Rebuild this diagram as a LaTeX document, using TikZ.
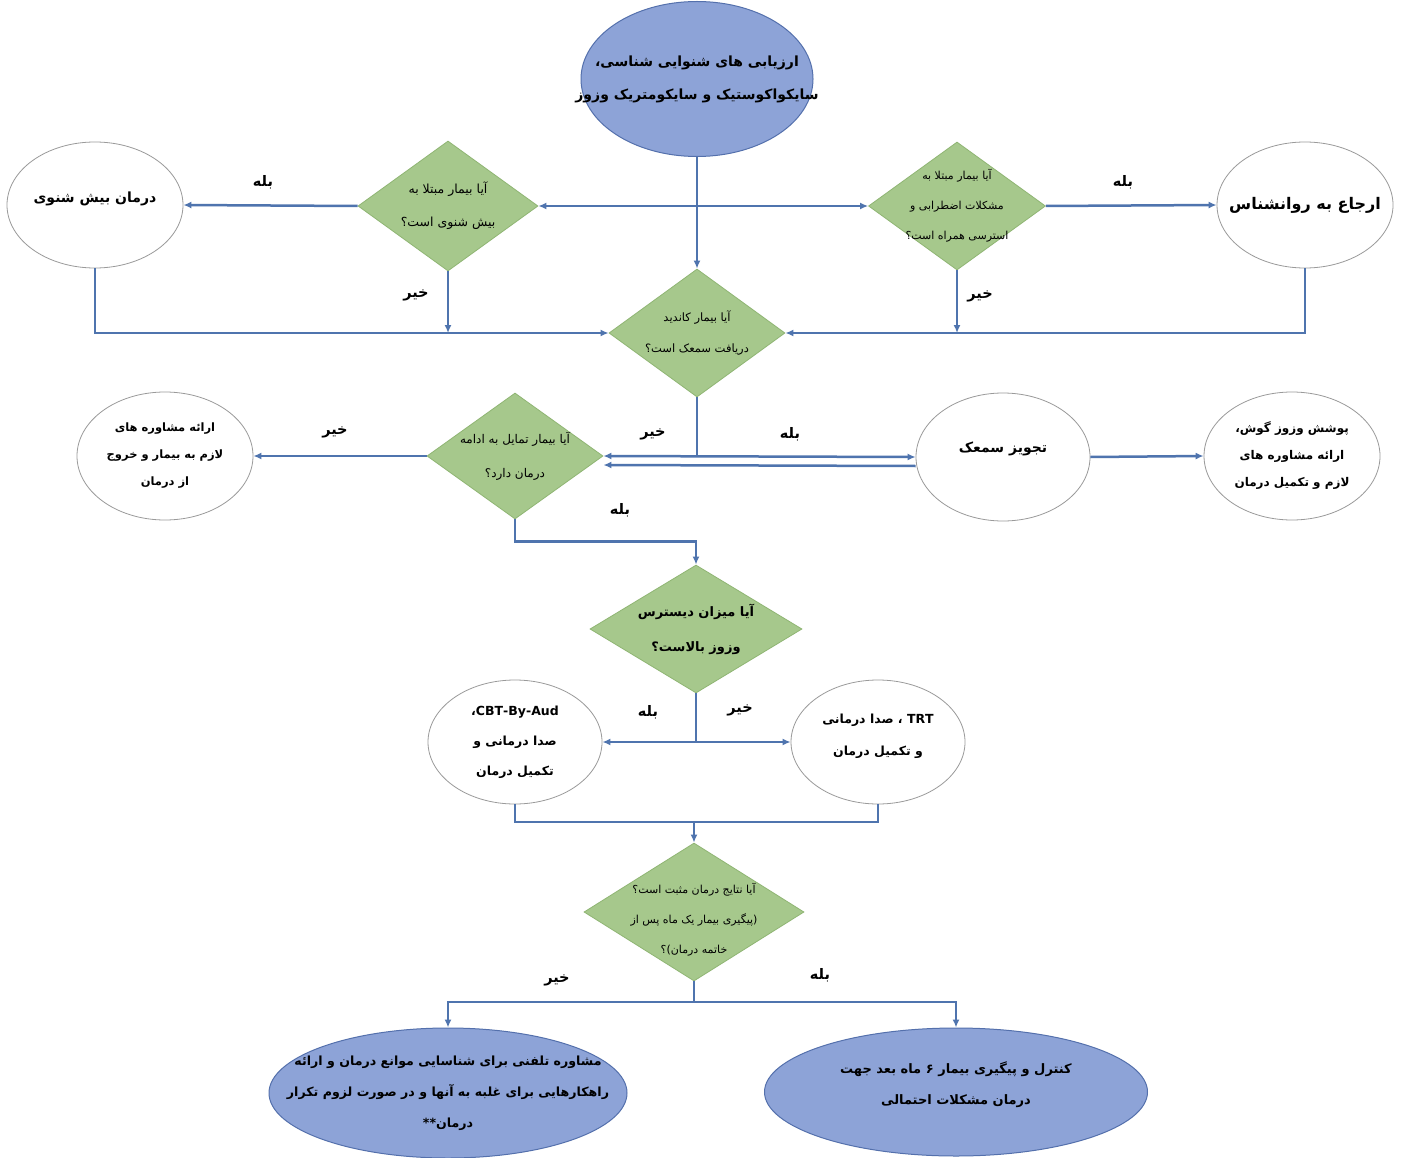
\documentclass[tikz,border=0pt]{standalone}
\usepackage{fontspec}
\usetikzlibrary{shapes.geometric,arrows.meta}
\TeXXeTstate=1
\newfontfamily\fafont[Script=Arabic]{DejaVu Sans}
\newcommand{\fa}[1]{\beginR #1\endR}
\definecolor{lnc}{HTML}{4F74AE}
\definecolor{dfill}{HTML}{A6C88C}
\definecolor{ddraw}{HTML}{8FB573}
\definecolor{bfill}{HTML}{8DA3D7}
\definecolor{bdraw}{HTML}{5470AC}
\definecolor{wdraw}{HTML}{9A9A9A}
\begin{document}
\begin{tikzpicture}[x=1pt,y=-1pt,
  flow/.style={draw=lnc,line width=2.5pt},
  arr/.style={-{Latex[length=8pt,width=7pt]}},
  both/.style={{Latex[length=8pt,width=7pt]}-{Latex[length=8pt,width=7pt]}},
  dia/.style={shape=diamond,fill=dfill,draw=ddraw,line width=0.8pt,inner sep=0pt},
  wel/.style={shape=ellipse,fill=white,draw=wdraw,line width=0.8pt,inner sep=0pt},
  bel/.style={shape=ellipse,fill=bfill,draw=bdraw,line width=1pt,inner sep=0pt},
  txt/.style={align=center,inner sep=0pt},
  lbl/.style={inner sep=0pt,font=\fafont\bfseries\fontsize{14.5}{16}\selectfont},
]
\fill[white] (0,0) rectangle (1402,1158);
\useasboundingbox (0,0) rectangle (1402,1158);

% ---------- shapes ----------
\node[bel,minimum width=232pt,minimum height=155pt] (top) at (697,79) {};
\node[txt,font=\fafont\bfseries\fontsize{14}{33}\selectfont] (topt) at (top)
  {\fa{ارزیابی های شنوایی شناسی،}\\\fa{سایکواکوستیک و سایکومتریک وزوز}};

\node[wel,minimum width=176pt,minimum height=126pt] (e1) at (95,205) {};
\node[txt,font=\fafont\bfseries\fontsize{14}{16}\selectfont] (e1t) at ([yshift=6pt]e1.center) {\fa{درمان بیش شنوی}};

\node[dia,minimum width=180pt,minimum height=130pt] (d1) at (448,206) {};
\node[txt,font=\fafont\fontsize{12.5}{33}\selectfont] (d1t) at (d1)
  {\fa{آیا بیمار مبتلا به}\\\fa{بیش شنوی است؟}};

\node[dia,minimum width=177pt,minimum height=128pt] (d2) at (957,206) {};
\node[txt,font=\fafont\fontsize{11}{30}\selectfont] (d2t) at (d2)
  {\fa{آیا بیمار مبتلا به}\\\fa{مشکلات اضطرابی و}\\\fa{استرسی همراه است؟}};

\node[wel,minimum width=176pt,minimum height=126pt] (e2) at (1305,205) {};
\node[txt,font=\fafont\bfseries\fontsize{16}{18}\selectfont] (e2t) at (e2) {\fa{ارجاع به روانشناس}};

\node[dia,minimum width=176pt,minimum height=128pt] (d3) at (697,333) {};
\node[txt,font=\fafont\fontsize{11.5}{31}\selectfont] (d3t) at (d3)
  {\fa{آیا بیمار کاندید}\\\fa{دریافت سمعک است؟}};

\node[dia,minimum width=176pt,minimum height=126pt] (d4) at (515,456) {};
\node[txt,font=\fafont\fontsize{12}{34}\selectfont] (d4t) at (d4)
  {\fa{آیا بیمار تمایل به ادامه}\\\fa{درمان دارد؟}};

\node[wel,minimum width=176pt,minimum height=128pt] (e3) at (165,456) {};
\node[txt,font=\fafont\bfseries\fontsize{11.5}{27}\selectfont] (e3t) at (e3)
  {\fa{ارائه مشاوره های}\\\fa{لازم به بیمار و خروج}\\\fa{از درمان}};

\node[wel,minimum width=174pt,minimum height=128pt] (c1) at (1003,457) {};
\node[txt,font=\fafont\bfseries\fontsize{14}{16}\selectfont] (c1t) at ([yshift=8pt]c1.center) {\fa{تجویز سمعک}};

\node[wel,minimum width=176pt,minimum height=128pt] (c2) at (1292,456) {};
\node[txt,font=\fafont\bfseries\fontsize{12}{27}\selectfont] (c2t) at (c2)
  {\fa{پوشش وزوز گوش،}\\\fa{ارائه مشاوره های}\\\fa{لازم و تکمیل درمان}};

\node[dia,minimum width=212pt,minimum height=128pt] (d5) at (696,629) {};
\node[txt,font=\fafont\bfseries\fontsize{13}{35}\selectfont] (d5t) at (d5)
  {\fa{آیا میزان دیسترس}\\\fa{وزوز بالاست؟}};

\node[wel,minimum width=174pt,minimum height=124pt] (e4) at (515,742) {};
\node[txt,font=\fafont\bfseries\fontsize{12.5}{30}\selectfont] (e4t) at (e4)
  {\fa{\beginL CBT-By-Aud\endL{}،}\\\fa{صدا درمانی و}\\\fa{تکمیل درمان}};

\node[wel,minimum width=174pt,minimum height=124pt] (e5) at (878,742) {};
\node[txt,font=\fafont\bfseries\fontsize{12.5}{32}\selectfont] (e5t) at ([yshift=6pt]e5.center)
  {\fa{\beginL TRT\endL{} ، صدا درمانی}\\\fa{و تکمیل درمان}};

\node[dia,minimum width=220pt,minimum height=138pt] (d6) at (694,912) {};
\node[txt,font=\fafont\fontsize{11}{30}\selectfont] (d6t) at ([yshift=-8pt]d6.center)
  {\fa{آیا نتایج درمان مثبت است؟}\\\fa{(پیگیری بیمار یک ماه پس از}\\\fa{خاتمه درمان)؟}};

\node[bel,minimum width=358pt,minimum height=130pt] (b1) at (448,1093) {};
\node[txt,font=\fafont\bfseries\fontsize{12.6}{31}\selectfont] (b1t) at (b1)
  {\fa{مشاوره تلفنی برای شناسایی موانع درمان و ارائه}\\\fa{راهکارهایی برای غلبه به آنها و در صورت لزوم تکرار}\\\fa{درمان**}};

\node[bel,minimum width=383pt,minimum height=128pt] (b2) at (956,1092) {};
\node[txt,font=\fafont\bfseries\fontsize{13}{31}\selectfont] (b2t) at ([yshift=7pt]b2.center)
  {\fa{کنترل و پیگیری بیمار ۶ ماه بعد جهت}\\\fa{درمان مشکلات احتمالی}};

% ---------- connectors ----------
\draw[flow,arr] (top.south) -- (d3.north);
\draw[flow,both] (d1.east) -- (d2.west);
\draw[flow,arr] (d1.west) -- (e1.east);
\draw[flow,arr] (d2.east) -- (e2.west);
\draw[flow,arr] (e1.south) -- (e1.south |- d3.west) -- (d3.west);
\draw[flow,arr] (e2.south) -- (e2.south |- d3.east) -- (d3.east);
\draw[flow,arr] (d1.south) -- (d1.south |- d3.west);
\draw[flow,arr] (d2.south) -- (d2.south |- d3.east);

\draw[flow] (d3.south) -- (d3.south |- d4.east);
\draw[flow,both] (d4.east) -- (c1.west);
\draw[flow,arr] ([yshift=-9pt]c1.west) -- ([yshift=-9pt]d4.east);
\draw[flow,arr] (c1.east) -- (c2.west);
\draw[flow,arr] (d4.west) -- (e3.east);
\draw[flow,arr] (d4.south) -- ++(0,22) -| (d5.north);

\draw[flow] (d5.south) -- (d5.south |- e4.east);
\draw[flow,both] (e4.east) -- (e5.west);
\coordinate (j1) at (694,822);
\draw[flow] (e4.south) -- (e4.south |- j1) -- (e5.south |- j1) -- (e5.south);
\draw[flow,arr] (j1) -- (d6.north);

\coordinate (j2) at (694,1002);
\draw[flow] (d6.south) -- (j2);
\draw[flow,arr] (j2) -| (b1.north);
\draw[flow,arr] (j2) -| (b2.north);

% ---------- labels ----------
\node[lbl] (l1) at (263,182) {\fa{بله}};
\node[lbl] (l2) at (1123,182) {\fa{بله}};
\node[lbl] (l3) at (416,295) {\fa{خیر}};
\node[lbl] (l4) at (980,296) {\fa{خیر}};
\node[lbl] (l5) at (335,432) {\fa{خیر}};
\node[lbl] (l6) at (653,434) {\fa{خیر}};
\node[lbl] (l7) at (790,434) {\fa{بله}};
\node[lbl] (l8) at (620,510) {\fa{بله}};
\node[lbl] (l9) at (648,712) {\fa{بله}};
\node[lbl] (l10) at (740,710) {\fa{خیر}};
\node[lbl] (l11) at (557,980) {\fa{خیر}};
\node[lbl] (l12) at (820,975) {\fa{بله}};
\end{tikzpicture}
\end{document}
